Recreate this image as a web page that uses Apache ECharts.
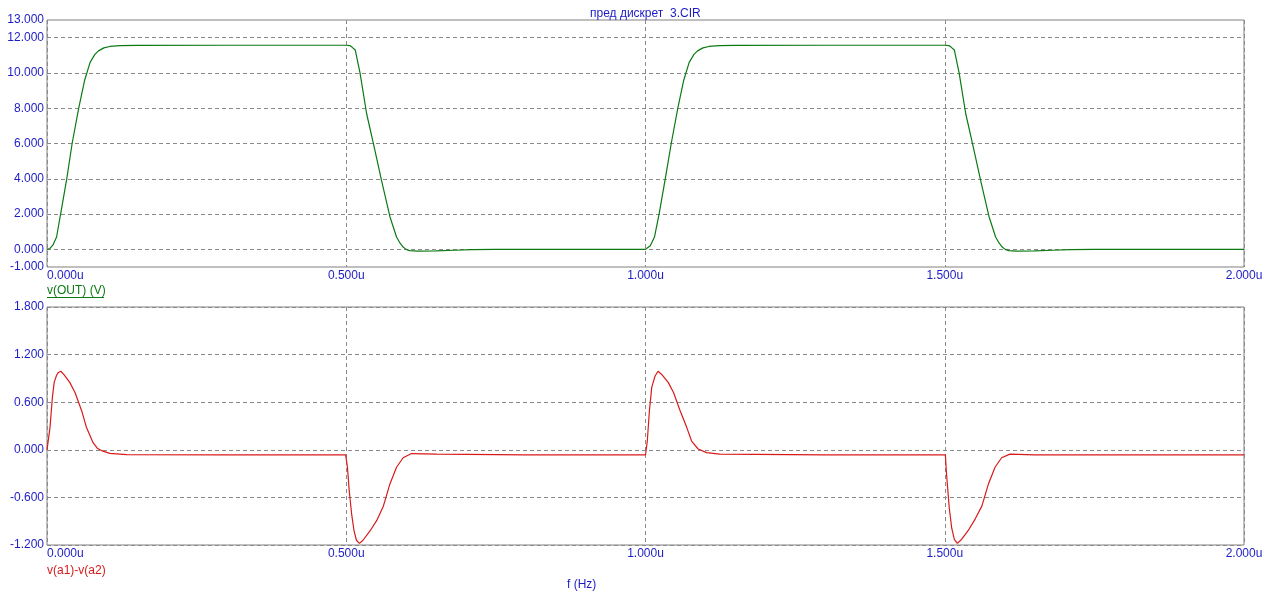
<!DOCTYPE html>
<html>
<head>
<meta charset="utf-8">
<script src="https://cdn.jsdelivr.net/npm/echarts@6/dist/echarts.min.js"></script>
<style>
html,body{margin:0;padding:0;background:#fff;}
#chart{width:1276px;height:604px;}
</style>
</head>
<body>
<div id="chart"></div>
<script>
// ---- data (time in microseconds) ----
var timeOut = [0.000,0.005,0.010,0.016,0.023,0.033,0.042,0.053,0.063,0.072,0.080,0.086,0.095,0.105,0.122,0.150,0.300,0.500,
  0.506,0.510,0.515,0.523,0.534,0.548,0.559,0.573,0.584,0.590,0.595,0.600,0.606,0.620,0.650,0.680,0.710,0.750,1.000,
  1.003,1.008,1.015,1.023,1.033,1.043,1.054,1.064,1.073,1.081,1.087,1.096,1.106,1.123,1.150,1.300,1.500,
  1.507,1.511,1.516,1.524,1.535,1.549,1.560,1.574,1.585,1.591,1.596,1.601,1.607,1.620,1.650,1.680,1.710,1.750,2.000];
var vOut = [0.00,0.05,0.25,0.70,2.05,4.00,6.00,8.00,9.60,10.60,11.05,11.25,11.42,11.50,11.55,11.56,11.57,11.57,
  11.55,11.45,11.30,10.00,7.70,5.60,3.90,1.85,0.70,0.35,0.13,0.00,-0.07,-0.10,-0.09,-0.05,-0.02,0.00,0.00,
  0.02,0.20,0.70,2.05,4.00,6.00,8.00,9.60,10.60,11.05,11.25,11.42,11.50,11.55,11.56,11.57,11.57,
  11.55,11.45,11.30,10.00,7.70,5.60,3.90,1.85,0.70,0.35,0.13,0.00,-0.07,-0.10,-0.09,-0.05,-0.02,0.00,0.00];

var timeDiff = [0.000,0.005,0.009,0.012,0.016,0.019,0.023,0.028,0.038,0.047,0.058,0.066,0.077,0.084,0.091,0.105,0.133,0.300,0.499,
  0.502,0.505,0.509,0.513,0.517,0.522,0.528,0.540,0.551,0.562,0.573,0.584,0.595,0.609,0.651,0.800,1.000,
  1.003,1.0065,1.0105,1.016,1.021,1.027,1.038,1.047,1.058,1.069,1.077,1.088,1.102,1.124,1.300,1.501,
  1.503,1.5075,1.5115,1.516,1.521,1.528,1.539,1.551,1.562,1.573,1.584,1.595,1.609,1.650,2.000];
var vDiff = [0.00,0.28,0.66,0.85,0.94,0.975,0.99,0.95,0.85,0.72,0.49,0.28,0.09,0.02,-0.01,-0.045,-0.06,-0.063,-0.063,
  -0.22,-0.52,-0.81,-1.02,-1.14,-1.18,-1.14,-1.02,-0.89,-0.71,-0.43,-0.22,-0.10,-0.047,-0.055,-0.063,-0.065,
  0.11,0.49,0.79,0.93,0.99,0.95,0.85,0.72,0.49,0.28,0.11,0.01,-0.035,-0.055,-0.063,-0.063,
  -0.31,-0.73,-0.98,-1.13,-1.18,-1.13,-1.02,-0.87,-0.71,-0.43,-0.22,-0.10,-0.055,-0.063,-0.063];

var topTickLabels = [-1, 0, 2, 4, 6, 8, 10, 12, 13];
var xTicks = [0, 0.5, 1.0, 1.5, 2.0];

var titleText = 'пред дискрет  3.CIR';
var outName = 'v(OUT) (V)';
var diffName = 'v(a1)-v(a2)';
var xName = 'f (Hz)';

// ---- styles ----
var BLUE = '#1c1cc4';
var GREEN = '#0b7a12';
var RED = '#d81a1a';
var GRID = '#8a8a8a';
var FONT = '"Liberation Sans", Arial, sans-serif';

function zip(a, b) { return a.map(function (t, i) { return [t, b[i]]; }); }

var chart = echarts.init(document.getElementById('chart'), null, {renderer: 'canvas'});

var xAxisBase = function (gridIndex) {
  return {
    type: 'value', gridIndex: gridIndex, min: xTicks[0], max: xTicks[xTicks.length - 1], interval: 0.5,
    axisLine: {show: false}, axisTick: {show: false},
    axisLabel: {color: BLUE, fontFamily: FONT, fontSize: 12, margin: 3, alignMinLabel: 'left',
      formatter: function (v) { return v.toFixed(3) + 'u'; }},
    splitLine: {show: true, lineStyle: {color: GRID, type: [4, 3], width: 1}}
  };
};

var option = {
  animation: false,
  backgroundColor: '#ffffff',
  grid: [
    {left: 47, top: 20, width: 1197, height: 247, show: true, borderColor: '#808080', borderWidth: 1, backgroundColor: 'transparent'},
    {left: 47, top: 307, width: 1197, height: 238, show: true, borderColor: '#808080', borderWidth: 1, backgroundColor: 'transparent'}
  ],
  xAxis: [xAxisBase(0), xAxisBase(1)],
  yAxis: [
    {
      type: 'value', gridIndex: 0, min: -1, max: 13, interval: 1,
      axisLine: {show: false}, axisTick: {show: false},
      axisLabel: {color: BLUE, fontFamily: FONT, fontSize: 12, margin: 3,
        formatter: function (v) { return topTickLabels.indexOf(Math.round(v)) >= 0 ? v.toFixed(3) : ''; }},
      splitLine: {show: true, lineStyle: {color: ['rgba(0,0,0,0)', GRID], type: [4, 3], width: 1}}
    },
    {
      type: 'value', gridIndex: 1, min: -1.2, max: 1.8, interval: 0.6,
      axisLine: {show: false}, axisTick: {show: false},
      axisLabel: {color: BLUE, fontFamily: FONT, fontSize: 12, margin: 3,
        formatter: function (v) { return (Math.abs(v) < 1e-9 ? 0 : v).toFixed(3); }},
      splitLine: {show: true, lineStyle: {color: GRID, type: [4, 3], width: 1}}
    }
  ],
  series: [
    {type: 'line', name: outName, xAxisIndex: 0, yAxisIndex: 0, data: zip(timeOut, vOut),
      showSymbol: false, symbol: 'none', lineStyle: {color: GREEN, width: 1.2}, z: 5},
    {type: 'line', name: diffName, xAxisIndex: 1, yAxisIndex: 1, data: zip(timeDiff, vDiff),
      showSymbol: false, symbol: 'none', lineStyle: {color: RED, width: 1.2}, z: 5}
  ],
  graphic: [
    {type: 'text', left: 590, top: 8, style: {text: titleText, fill: BLUE, font: '12px ' + FONT}},
    {type: 'text', left: 47, top: 285, style: {text: outName, fill: GREEN, font: '12px ' + FONT}},
    {type: 'line', shape: {x1: 47, y1: 297.5, x2: 104, y2: 297.5}, style: {stroke: GREEN, lineWidth: 1}},
    {type: 'text', left: 47, top: 565, style: {text: diffName, fill: RED, font: '12px ' + FONT}},
    {type: 'text', left: 567, top: 579, style: {text: xName, fill: BLUE, font: '12px ' + FONT}}
  ]
};
chart.setOption(option);
</script>
</body>
</html>
